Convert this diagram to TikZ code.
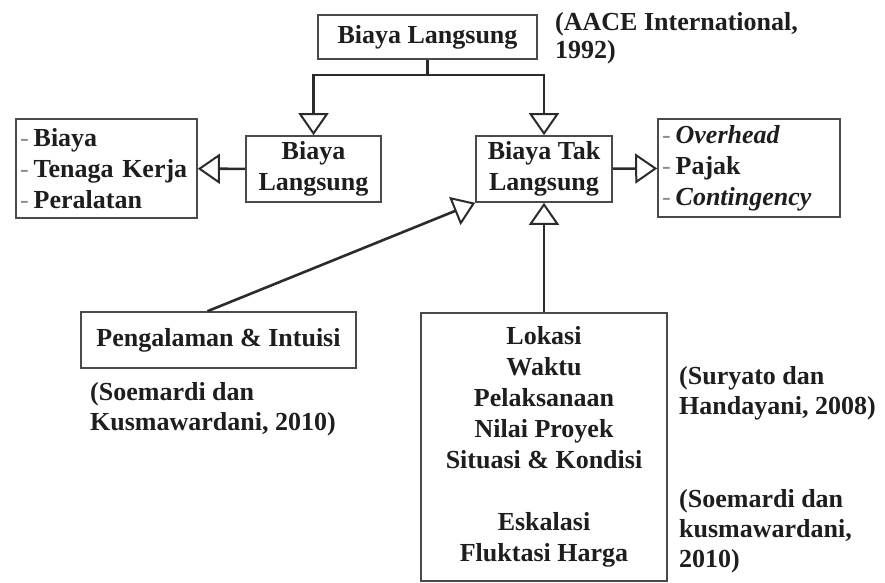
\documentclass[tikz,border=0pt]{standalone}
\usepackage{fontspec}
\setmainfont{Liberation Serif}
\usetikzlibrary{arrows.meta,positioning,calc}
\definecolor{bkLine}{HTML}{2B2B2B}
\definecolor{bkBox}{HTML}{4A4A4A}
\definecolor{bkText}{HTML}{1E1E1E}
\definecolor{bkDash}{HTML}{8A8A8A}
\newcommand{\dsh}{{\mdseries\color{bkDash}-}\hspace{5pt}}

\begin{document}
\begin{tikzpicture}[x=1pt, y=-1pt,
  box/.style={draw=bkBox, line width=1.6pt, inner sep=0pt, align=center, text=bkText, font=\fontsize{26}{31}\selectfont\bfseries},
  lst/.style={box, align=left, inner xsep=4pt},
  cit/.style={anchor=north west, inner sep=0pt, align=left, text=bkText, font=\fontsize{26}{30}\selectfont\bfseries},
  ln/.style={draw=bkLine, line width=2.6pt},
  arr/.style={ln, -{Triangle[open, length=22pt, width=30pt, line width=2pt]}}]
\useasboundingbox (0,0) rectangle (885,582);
\node[box, minimum width=219pt, minimum height=44pt] (top) at (427.5,37) {Biaya Langsung};
\node[cit, font=\fontsize{26}{28}\selectfont\bfseries] (c1) at (555,12) {(AACE International,\\1992)};
\node[box, minimum width=135pt, minimum height=66pt] (bl) at (313.5,169) {Biaya\\Langsung};
\node[box, minimum width=136pt, minimum height=66pt] (btl) at (544,169) {Biaya Tak\\Langsung};
\node[lst, text width=173pt, minimum height=99pt] (komp) at (106.5,168.5) {\dsh Biaya\\\dsh Tenaga Kerja\\\dsh Peralatan};
\node[lst, text width=174pt, minimum height=98pt] (tl) at (749,168) {\dsh\textit{Overhead}\\\dsh Pajak\\\dsh\textit{Contingency}};
\node[box, minimum width=275pt, minimum height=56pt] (peng) at (218.5,340) {Pengalaman \& Intuisi};
\node[cit] (c2) at (90,382) {(Soemardi dan\\Kusmawardani, 2010)};
\node[box, minimum width=246pt, minimum height=268pt] (fak) at (544,447)
  {Lokasi\\Waktu\\Pelaksanaan\\Nilai Proyek\\Situasi \& Kondisi\\[31pt]Eskalasi\\Fluktasi Harga};
\node[cit] (c3) at (679,366) {(Suryato dan\\Handayani, 2008)};
\node[cit] (c4) at (679,489) {(Soemardi dan\\kusmawardani,\\2010)};
\draw[ln] (top.south) -- ++(0,15) coordinate (sp);
\draw[arr] (sp) -| (bl.north);
\draw[arr] (sp) -| (btl.north);
\foreach \a/\b in {bl/komp,btl/tl,fak/btl}{\draw[arr] (\a) -- (\b);}
\draw[arr] ([xshift=-11pt]peng.north) -- (btl.south west);
\end{tikzpicture}
\end{document}
